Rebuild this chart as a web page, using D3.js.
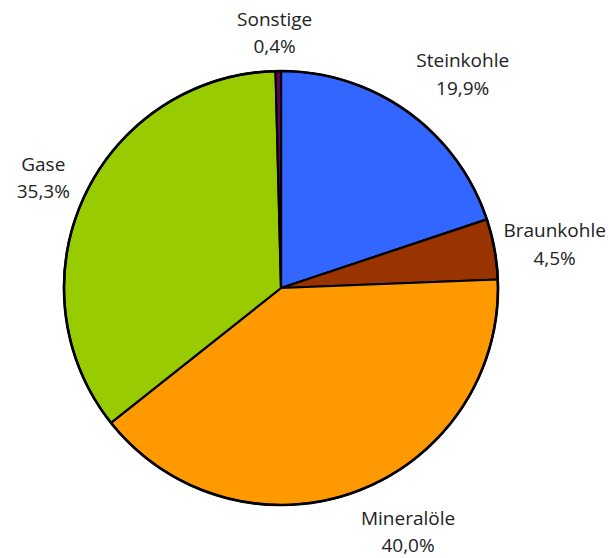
<!DOCTYPE html>
<html>
<head>
<meta charset="utf-8">
<script src="https://cdn.jsdelivr.net/npm/d3@7"></script>
<style>
 body { margin: 0; background: #fff; }
 text { font-family: "Open Sans", sans-serif; fill: #222; }
</style>
</head>
<body>
<svg id="chart"></svg>
<script>
// Anteile am Primärenergieverbrauch
const categories = ["Steinkohle", "Braunkohle", "Mineralöle", "Gase", "Sonstige"];
const values = [19.9, 4.5, 40.0, 35.3, 0.4];
const valueLabels = ["19,9%", "4,5%", "40,0%", "35,3%", "0,4%"];
const colors = ["#3366ff", "#993300", "#ff9900", "#99cc00", "#660066"];

let width = 611;
let height = 558;
let cx = 281;
let cy = 288;
let radius = 217;
let labelRadius = 268;
// kleine Verschiebungen der Beschriftungen (wie im Original)
let nudge = [[25, 4], [10, 5], [34, -7], [5, 4], [-3, 13]];

let svg = d3.select("#chart")
 .attr("width", width)
 .attr("height", height);

let data = categories.map((c, i) => ({name: c, value: values[i], label: valueLabels[i], color: colors[i], idx: i}));

let pie = d3.pie()
 .sort(null)
 .value(d => d.value);

let arc = d3.arc()
 .innerRadius(0)
 .outerRadius(radius);

let labelArc = d3.arc()
 .innerRadius(labelRadius)
 .outerRadius(labelRadius);

let g = svg.append("g")
 .attr("transform", `translate(${cx}, ${cy})`);

let arcs = pie(data);

g.selectAll("path.slice")
 .data(arcs)
 .enter()
 .append("path")
 .attr("class", "slice")
 .attr("d", arc)
 .style("fill", d => d.data.color)
 .style("stroke", "#000")
 .style("stroke-width", 2.2)
 .style("stroke-linejoin", "round");

// äußerer Rand
g.append("circle")
 .attr("r", radius)
 .style("fill", "none")
 .style("stroke", "#000")
 .style("stroke-width", 2.6);

let labels = g.selectAll("text.lbl")
 .data(arcs)
 .enter()
 .append("text")
 .attr("class", "lbl")
 .attr("text-anchor", "middle")
 .style("font-size", "19px")
 .attr("transform", function(d) {
 let c = labelArc.centroid(d);
 let n = nudge[d.data.idx];
 return `translate(${c[0] + n[0]}, ${c[1] + n[1]})`;
 });

labels.append("tspan")
 .attr("x", 0)
 .attr("y", -7.5)
 .text(d => d.data.name);

labels.append("tspan")
 .attr("x", 0)
 .attr("y", 20)
 .text(d => d.data.label);
</script>
</body>
</html>
